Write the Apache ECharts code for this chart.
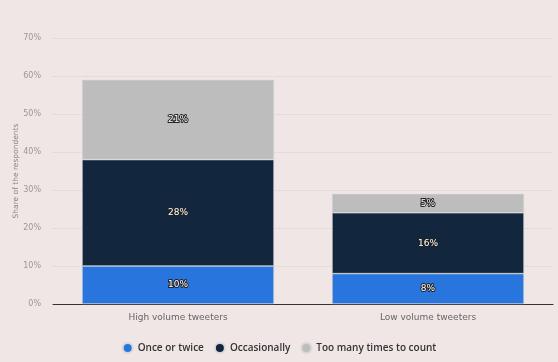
<!DOCTYPE html>
<html><head><meta charset="utf-8">
<script src="https://cdn.jsdelivr.net/npm/echarts@6/dist/echarts.min.js"></script>
<style>html,body{margin:0;padding:0;background:#efe6e5;}#c{width:558px;height:362px;}</style>
</head><body><div id="c"></div>
<script>
const categories = ['High volume tweeters', 'Low volume tweeters'];
const onceOrTwice = [10, 8];
const occasionally = [28, 16];
const tooMany = [21, 5];
const yTicks = [0, 10, 20, 30, 40, 50, 60, 70];

const lbl = {
  show: true, position: 'inside', formatter: '{c}%', color: '#fff',
  fontSize: 9, fontFamily: 'DejaVu Sans', textBorderColor: '#222', textBorderWidth: 2
};
function ser(name, data, color) {
  return {
    name, type: 'bar', stack: 'a', data, barWidth: 192,
    itemStyle: { color, borderColor: '#d8d8d8', borderWidth: 0.6 },
    label: lbl
  };
}
const chart = echarts.init(document.getElementById('c'));
chart.setOption({
  backgroundColor: '#efe6e5',
  animation: false,
  grid: { left: 53, right: 5, top: 38, bottom: 58, containLabel: false, outerBoundsMode: 'none' },
  xAxis: {
    type: 'category', data: categories,
    axisLine: { lineStyle: { color: '#333', width: 1 } },
    axisTick: { show: false },
    axisLabel: { color: '#666', fontSize: 9, fontFamily: 'DejaVu Sans', margin: 9 }
  },
  yAxis: {
    type: 'value', min: yTicks[0], max: yTicks[yTicks.length - 1], interval: 10,
    name: 'Share of the respondents', nameLocation: 'middle', nameGap: 33, nameMoveOverlap: false,
    nameTextStyle: { color: '#888', fontSize: 7.5, fontFamily: 'DejaVu Sans' },
    axisLabel: { formatter: '{value}%', color: '#999', fontSize: 8, fontFamily: 'DejaVu Sans', margin: 12 },
    splitLine: { lineStyle: { color: '#d9d0cf', type: 'dotted' } },
    axisLine: { show: false }, axisTick: { show: false }
  },
  legend: {
    bottom: 3, left: 'center', icon: 'circle', itemWidth: 10, itemHeight: 10, itemGap: 10,
    textStyle: { color: '#333', fontSize: 10, fontWeight: 600, fontFamily: 'Open Sans' }
  },
  series: [
    ser('Once or twice', onceOrTwice, '#2876dd'),
    ser('Occasionally', occasionally, '#12263d'),
    ser('Too many times to count', tooMany, '#bdbdbd')
  ]
});
</script></body></html>
